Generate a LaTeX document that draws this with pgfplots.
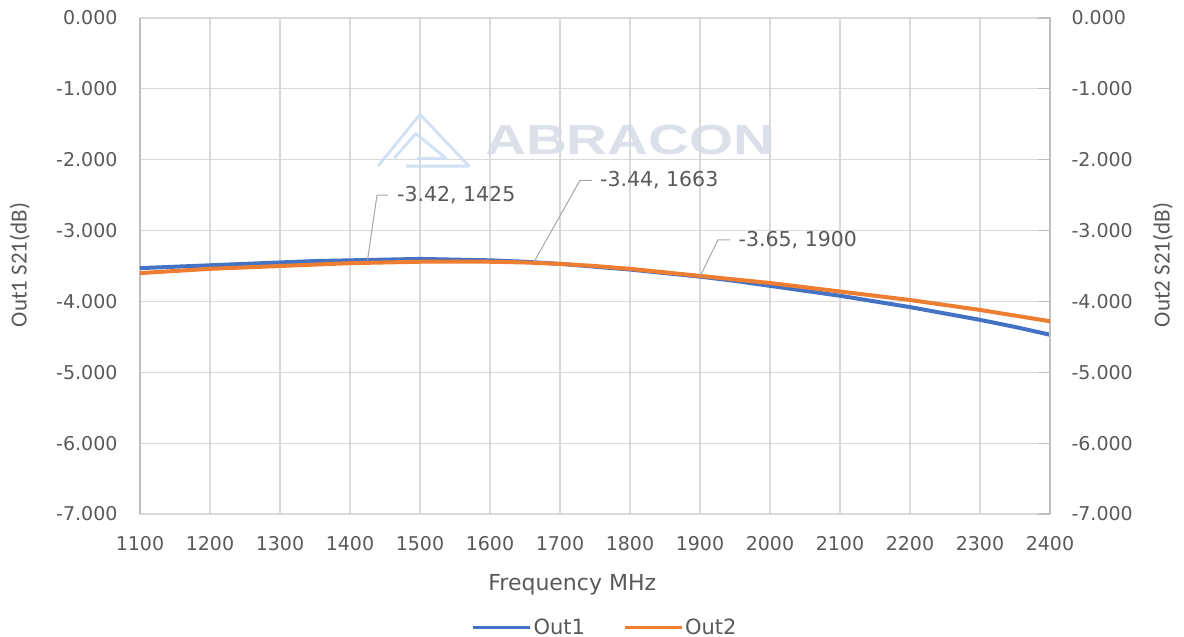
\documentclass[border=0pt]{standalone}
\usepackage{fontspec}
\setmainfont{DejaVu Sans}
\newfontfamily\carlito{Carlito}
\newfontfamily\logofont{Liberation Sans}
\usepackage{pgfplots}
\usepackage{pgfplotstable}
\pgfplotsset{compat=1.18}

\definecolor{outone}{HTML}{4472C4}
\definecolor{outtwo}{HTML}{ED7D31}
\definecolor{gridc}{HTML}{D9D9D9}
\definecolor{axisc}{HTML}{BFBFBF}
\definecolor{textc}{HTML}{595959}
\definecolor{leadc}{HTML}{A6A6A6}
\definecolor{wmark}{HTML}{D5DBE6}
\definecolor{wlogo}{HTML}{CADCF2}

% frequency (MHz), S21 (dB)
\pgfplotstableread{
f s
1100 -3.53
1150 -3.51
1200 -3.49
1250 -3.47
1300 -3.45
1350 -3.43
1400 -3.42
1450 -3.41
1500 -3.40
1550 -3.41
1600 -3.42
1650 -3.44
1700 -3.47
1750 -3.51
1800 -3.55
1850 -3.60
1900 -3.65
1950 -3.71
2000 -3.78
2050 -3.85
2100 -3.92
2150 -4.00
2200 -4.08
2250 -4.17
2300 -4.26
2350 -4.36
2400 -4.47
}\outonedata

\pgfplotstableread{
f s
1100 -3.60
1150 -3.57
1200 -3.54
1250 -3.52
1300 -3.50
1350 -3.48
1400 -3.46
1450 -3.45
1500 -3.44
1550 -3.44
1600 -3.44
1650 -3.45
1700 -3.47
1750 -3.50
1800 -3.54
1850 -3.59
1900 -3.64
1950 -3.69
2000 -3.74
2050 -3.80
2100 -3.86
2150 -3.92
2200 -3.98
2250 -4.05
2300 -4.12
2350 -4.20
2400 -4.28
}\outtwodata

\pgfplotsset{
    basestyle/.style={
        scale only axis, width=910pt, height=496pt,
        xmin=1100, xmax=2400, ymin=-7, ymax=0,
        xtick distance=100, ytick distance=1,
        clip mode=individual,
        /pgf/number format/assume math mode=true,
        tick label style={font=\fontsize{19}{22}\selectfont, text=textc},
        yticklabel style={/pgf/number format/fixed,
            /pgf/number format/fixed zerofill,
            /pgf/number format/precision=3},
        xticklabel style={/pgf/number format/set thousands separator={}},
    },
}
\tikzset{
    dlabel/.style={anchor=west, font=\fontsize{20.5}{24}\selectfont,
        text=textc, inner sep=0pt},
}

\begin{document}
\begin{tikzpicture}
\useasboundingbox (-140pt,-123pt) rectangle (1044pt,514pt);

\begin{axis}[basestyle,
    grid=major, grid style={gridc, line width=1.2pt},
    axis line style={gridc, line width=1.2pt},
    tick style={draw=none},
    yticklabel style={xshift=-19pt},
    xticklabel style={yshift=-19pt},
    legend style={draw=none, fill=none, at={(0.511,-0.228)}, anchor=center,
        legend columns=2, font=\fontsize{21}{24}\selectfont, text=textc,
        /tikz/every even column/.append style={column sep=36pt}},
    legend image code/.code={\draw[#1, line width=3pt] (0pt,0pt)--(57pt,0pt);},
]
    % watermark
    \node[font=\logofont\bfseries\fontsize{42}{42}\selectfont, text=wmark,
        xscale=1.35, opacity=0.85] at (axis cs:1800,-1.72) {ABRACON};
    \draw[wlogo, line width=3pt, opacity=0.85, line join=round]
        (axis cs:1440,-2.09) -- (axis cs:1500,-1.36) -- (axis cs:1570,-2.09)
        -- (axis cs:1480,-2.09);
    \draw[wlogo, line width=3pt, opacity=0.85, line join=round]
        (axis cs:1463,-1.98) -- (axis cs:1494,-1.63) -- (axis cs:1537,-1.98)
        -- (axis cs:1496,-1.98);
    \draw[axisc, line width=1.2pt] (rel axis cs:0,0) -- (rel axis cs:0,1);

    \addplot[outone, line width=4pt] table[x=f, y=s] {\outonedata};
    \addlegendentry{Out1}
    \addlegendimage{outtwo, line width=3pt}
    \addlegendentry{Out2}

    \node[font=\fontsize{22}{26}\selectfont, text=textc] at (axis description cs:0.475,-0.143) {Frequency MHz};
    \node[font=\carlito\fontsize{23}{26}\selectfont, text=textc, rotate=90] at (axis description cs:-0.132,0.502) {Out1 S21(dB)};
    \node[font=\carlito\fontsize{23}{26}\selectfont, text=textc, rotate=90] at (axis description cs:1.124,0.502) {Out2 S21(dB)};
\end{axis}

\begin{axis}[basestyle,
    axis x line=none, axis y line*=right,
    axis line style={axisc, line width=1.2pt},
    ytick style={axisc, line width=1.2pt},
    major tick length=12pt,
    yticklabel style={xshift=18pt},
]
    \addplot[outtwo, line width=4pt] table[x=f, y=s] {\outtwodata};

    % data labels with leader lines
    \draw[leadc, line width=1pt] (axis cs:1425,-3.42) -- (axis cs:1438.6,-2.50) -- (axis cs:1454,-2.50);
    \node[dlabel] at (axis cs:1467,-2.50) {-3.42, 1425};
    \draw[leadc, line width=1pt] (axis cs:1663,-3.44) -- (axis cs:1728.6,-2.29) -- (axis cs:1745.7,-2.29);
    \node[dlabel] at (axis cs:1757,-2.29) {-3.44, 1663};
    \draw[leadc, line width=1pt] (axis cs:1900,-3.65) -- (axis cs:1925.7,-3.13) -- (axis cs:1943,-3.13);
    \node[dlabel] at (axis cs:1955,-3.13) {-3.65, 1900};
\end{axis}
\end{tikzpicture}
\end{document}
